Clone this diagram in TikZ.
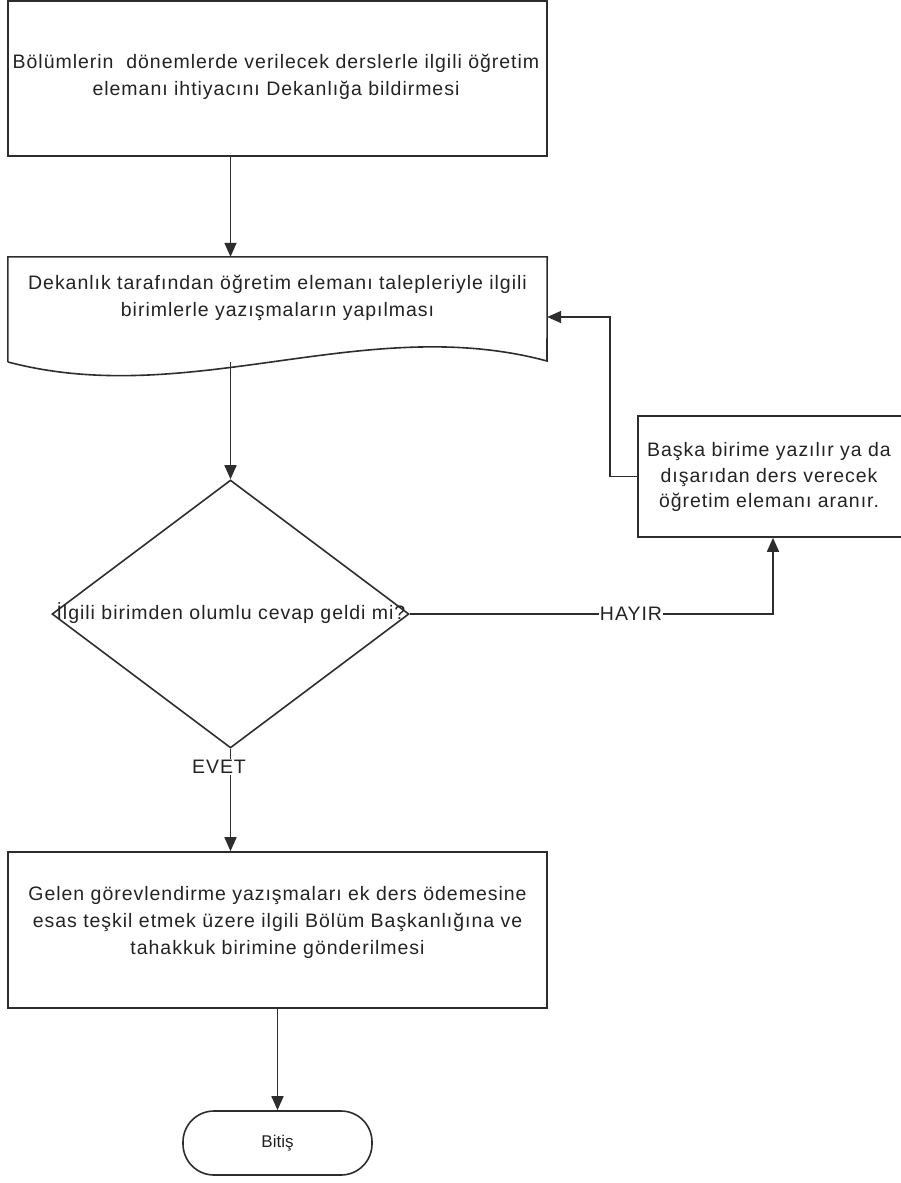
\documentclass[tikz,border=0pt]{standalone}
\usepackage{fontspec}
\setmainfont{Liberation Sans}
\newfontfamily\vf[LetterSpace=5]{Liberation Sans}
\usetikzlibrary{shapes.geometric,arrows.meta}
\definecolor{lncol}{RGB}{45,45,45}
\definecolor{txcol}{RGB}{35,35,35}
\begin{document}
\begin{tikzpicture}[x=1pt,y=-1pt,
  box/.style={draw=lncol,line width=1.6pt,inner sep=0pt},
  txt/.style={text=txcol,font=\vf\fontsize{19.5}{27}\selectfont,align=center,inner sep=0pt},
  conn/.style={draw=lncol,line width=1.6pt},
  arr/.style={draw=lncol,line width=1.6pt,-{Triangle[length=14pt,width=12pt]}}]
\useasboundingbox[fill=white] (0,0) rectangle (900,1183);
% boxes
\node[box,minimum width=539,minimum height=154.5] (b1) at (277.5,78.5) {};
\node[txt] (t1) at (276,76.5) {Bölümlerin\ \ dönemlerde verilecek derslerle ilgili öğretim\\elemanı ihtiyacını Dekanlığa bildirmesi};
\node[inner sep=0pt,minimum width=539,minimum height=105] (b2) at (277.5,309.5) {};
\draw[conn,line join=miter] (b2.south west) -- (b2.north west) -- (b2.north east) -- (547,361) .. controls (365,312) and (190,410) .. (8,362);
\node[txt] (t2) at (277.5,298) {Dekanlık tarafından öğretim elemanı talepleriyle ilgili\\birimlerle yazışmaların yapılması};
\node[draw=lncol,line width=1.6pt,diamond,minimum width=357,minimum height=268,inner sep=0pt] (d) at (230.5,614) {};
\node[txt] (q) at (231,613) {İlgili birimden olumlu cevap geldi mi?};
\node[box,minimum width=270,minimum height=121] (b3) at (773,476.5) {};
\node[txt,font=\vf\fontsize{19.5}{25.5}\selectfont] (t3) at (769,477) {Başka birime yazılır ya da\\dışarıdan ders verecek\\öğretim elemanı aranır.};
\node[box,minimum width=539,minimum height=156] (b4) at (277.5,930) {};
\node[txt] (t4) at (277.5,922) {Gelen görevlendirme yazışmaları ek ders ödemesine\\esas teşkil etmek üzere ilgili Bölüm Başkanlığına ve\\tahakkuk birimine gönderilmesi};
\node[draw=lncol,line width=1.6pt,rounded corners=31pt,minimum width=189,minimum height=64,text=txcol,font=\fontsize{17}{20}\selectfont] (end) at (277.5,1143) {Bitiş};
% connectors
\draw[arr] (b1.south -| d.north) -- (b2.north -| d.north);
\draw[arr] (b2.south -| d.north) -- (d.north);
\draw[arr] (d.south) -- (b4.north -| d.south);
\node[txt,fill=white,inner sep=1pt] (ev) at (219,767) {EVET};
\draw[arr] (d.east) -| (b3.south);
\node[txt,fill=white,inner sep=1pt] (hy) at (631,614) {HAYIR};
\coordinate (k) at (610,317);
\draw[arr] (b3.west) -| (k) -- (b2.east |- k);
\draw[arr] (b4.south) -- (end.north);
\end{tikzpicture}
\end{document}
